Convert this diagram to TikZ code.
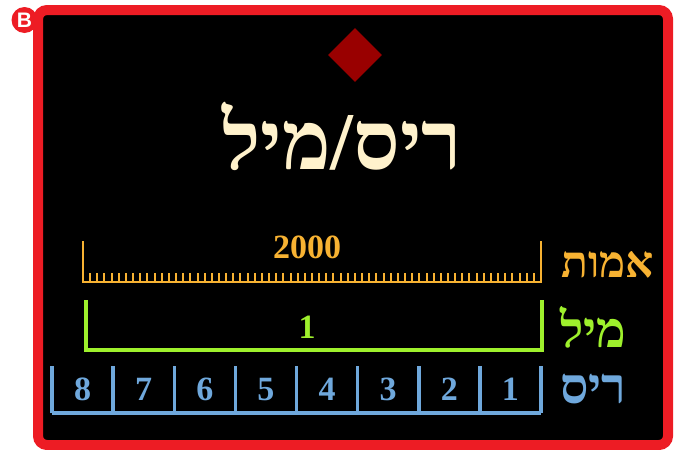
\documentclass[tikz,border=0pt]{standalone}
\usepackage{fontspec}
\usetikzlibrary{shapes.geometric,calc}
\setmainfont{Liberation Serif}
\newfontfamily\hebfont[Script=Hebrew]{Liberation Serif}
\newfontfamily\badgefont{Liberation Sans}
\TeXXeTstate=1
\definecolor{framered}{HTML}{ED1C24}
\definecolor{diamondred}{HTML}{990000}
\definecolor{cream}{HTML}{FFF2CC}
\definecolor{ammaorange}{HTML}{F7B232}
\definecolor{milgreen}{HTML}{9EF02C}
\definecolor{risblue}{HTML}{6FA8DC}
\begin{document}
\begin{tikzpicture}[x=1pt,y=-1pt,
  numtext/.style={font=\fontsize{34}{34}\selectfont\bfseries, anchor=base},
  labeltext/.style={font=\hebfont\fontsize{44}{44}\selectfont\bfseries, anchor=base west, inner sep=0pt},
  orangeline/.style={draw=ammaorange, line width=2.5pt},
  greenline/.style={draw=milgreen, line width=4pt},
  blueline/.style={draw=risblue, line width=3.5pt}]
\useasboundingbox (0,0) rectangle (675,450);
% frame
\draw[framered, line width=10pt, fill=black, rounded corners=9pt] (38,10) rectangle (668,445);
\node[circle, fill=framered, minimum size=26pt, inner sep=0pt] (badge) at (24.5,20) {};
\node[text=white, font=\badgefont\fontsize{21}{21}\selectfont\bfseries] (badgeB) at (24.5,20.5) {B};
% diamond
\node[diamond, fill=diamondred, minimum size=54pt, inner sep=0pt] (dia) at (355,55) {};
% title
\node[text=cream, font=\hebfont\fontsize{82}{82}\selectfont\bfseries, anchor=base] (title) at (342,169) {\beginR ריס/מיל\endR};
% ammot row
\coordinate (aL) at (83,282);
\coordinate (aR) at (541,282);
\coordinate (aLt) at (83,241);
\coordinate (aRt) at (541,241);
\draw[orangeline] (aLt) -- (aL) -- (aR) -- (aRt);
\foreach \k in {1,...,63} {
  \draw[draw=ammaorange, line width=2pt] ($(aL)!\k/64!(aR)$) -- ++(0,-9);
}
\node[numtext, text=ammaorange] (n2000) at (307,258) {2000};
\node[labeltext, text=ammaorange] (lammot) at (561,277) {\beginR אמות\endR};
% mil row
\coordinate (mL) at (86,350);
\coordinate (mR) at (542,350);
\coordinate (mLt) at (86,300);
\coordinate (mRt) at (542,300);
\draw[greenline] (mLt) -- (mL) -- (mR) -- (mRt);
\node[numtext, text=milgreen] (n1) at (307,338) {1};
\node[labeltext, text=milgreen, font=\hebfont\fontsize{50}{50}\selectfont\bfseries] (lmil) at (560,347) {\beginR מיל\endR};
% ris row
\coordinate (rL) at (52,413);
\coordinate (rR) at (541,413);
\draw[blueline] (rL) -- (rR);
\foreach \k in {0,...,8} {
  \draw[blueline] ($(rL)!\k/8!(rR)$) -- ++(0,-47);
}
\foreach \k/\n in {0/8,1/7,2/6,3/5,4/4,5/3,6/2,7/1} {
  \node[numtext, text=risblue] (r\n) at ($(52,400)!{(\k+0.5)/8}!(541,400)$) {\n};
}
\node[labeltext, text=risblue, font=\hebfont\fontsize{50}{50}\selectfont\bfseries] (lris) at (560,403) {\beginR ריס\endR};
\end{tikzpicture}
\end{document}
